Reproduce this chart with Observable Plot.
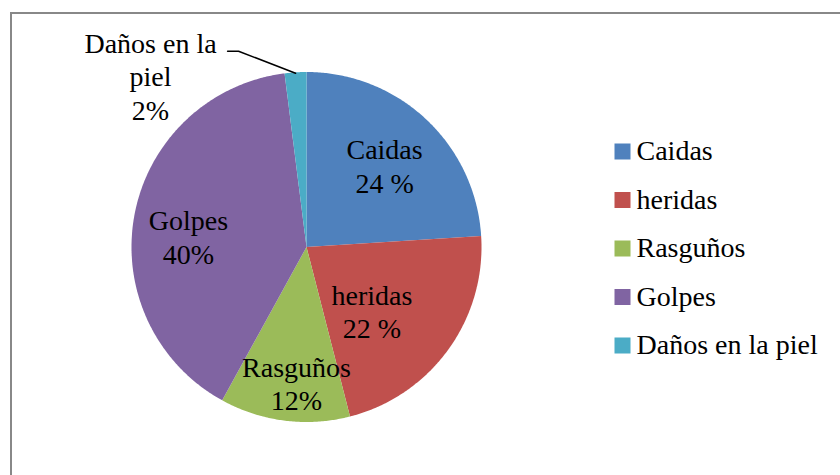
<!DOCTYPE html>
<html><head><meta charset="utf-8">
<script src="https://cdn.jsdelivr.net/npm/d3@7"></script>
<script src="https://cdn.jsdelivr.net/npm/@observablehq/plot@0.6"></script>
<style>
html,body{margin:0;padding:0;background:#fff;}
#frame{position:absolute;left:10px;top:12px;width:828px;height:461px;border-left:2px solid #888;border-top:2px solid #888;}
</style>
</head><body>
<div id="frame"></div>
<script>
// ---- data ----
const categories = ["Caidas", "heridas", "Rasguños", "Golpes", "Daños en la piel"];
const values = [24, 22, 12, 40, 2];
const labelTexts = ["Caidas\n24 %", "heridas\n22 %", "Rasguños\n12%", "Golpes\n40%", "Daños en la\npiel\n2%"];
const colors = ["#4F81BD", "#C0504D", "#9BBB59", "#8064A2", "#4BACC6"];

// ---- styling ----
const R = 175, CX = 306, CY = 246.5;
const labelRadius = [0.66, 0.66, 0.66, 0.66, 1.0];
const labelNudge = [[-1, 2.5], [-28, -4], [4.5, 21], [-4.6, 11], [-145, 3]];
const legendSwatchX = (622 - CX) / R, legendTextX = (636 - CX) / R;
const legendY = i => (CY - (151 + 48.5 * i)) / R;

// ---- geometry from data ----
const total = d3.sum(values);
const slices = [];
let cum = 0;
categories.forEach((name, i) => {
  const a0 = cum / total * 2 * Math.PI;
  cum += values[i];
  const a1 = cum / total * 2 * Math.PI;
  slices.push({name, i, a0, a1, mid: (a0 + a1) / 2});
});
const pts = [];
for (const s of slices) {
  pts.push({name: s.name, x: 0, y: 0});
  const n = Math.max(2, Math.ceil((s.a1 - s.a0) / (Math.PI / 360)));
  for (let k = 0; k <= n; k++) {
    const a = s.a0 + (s.a1 - s.a0) * k / n;
    pts.push({name: s.name, x: Math.sin(a), y: Math.cos(a)});
  }
}
const labels = slices.map((s, i) => ({
  name: s.name, text: labelTexts[i],
  x: labelRadius[i] * Math.sin(s.mid), y: labelRadius[i] * Math.cos(s.mid)
}));
const legendRows = categories.map((name, i) => ({name, y: legendY(i)}));
// leader line for the small outside slice
const small = slices[4];
const ex = Math.sin(small.mid) * 0.995, ey = Math.cos(small.mid) * 0.995;
const leader = [
  {x: ex, y: ey},
  {x: ex - 57 / R, y: ey + 22 / R},
  {x: ex - 68 / R, y: ey + 22 / R}
];

const textMarks = labels.map((l, i) => Plot.text([l], {
  x: "x", y: "y", text: "text", dx: labelNudge[i][0], dy: labelNudge[i][1],
  fontSize: 28, fontFamily: "Liberation Serif", fill: "black", lineHeight: 1.2, textAnchor: "middle"
}));

const chart = Plot.plot({
  width: 840, height: 475,
  x: {domain: [-1, 1], range: [CX - R, CX + R], axis: null},
  y: {domain: [-1, 1], range: [CY + R, CY - R], axis: null},
  color: {domain: categories, range: colors},
  style: {background: "transparent", position: "relative"},
  marks: [
    Plot.line(pts, {x: "x", y: "y", z: "name", fill: "name", stroke: "none", curve: "linear-closed"}),
    Plot.line(leader, {x: "x", y: "y", stroke: "black", strokeWidth: 1.5}),
    ...textMarks,
    Plot.dot(legendRows, {x: () => legendSwatchX, y: "y", fill: "name", symbol: "square", r: 9.03, stroke: "none"}),
    Plot.text(legendRows, {x: () => legendTextX, y: "y", text: "name", textAnchor: "start",
      fontSize: 28, fontFamily: "Liberation Serif", fill: "black"})
  ]
});
document.body.appendChild(chart);
</script>
</body></html>
